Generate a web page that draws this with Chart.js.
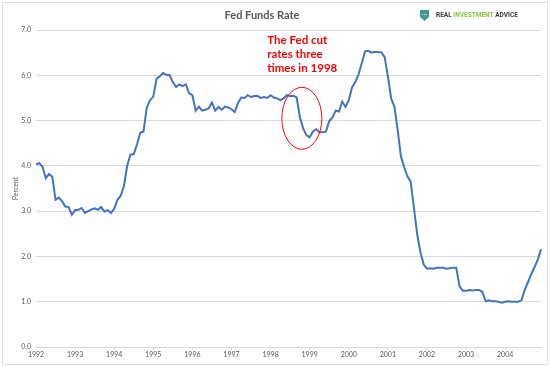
<!DOCTYPE html>
<html lang="en">
<head>
    <meta charset="UTF-8">
    <title>Fed Funds Rate</title>
    <script src="https://cdn.jsdelivr.net/npm/chart.js"></script>
    <style>
        html, body {
            margin: 0;
            padding: 0;
            background-color: white;
        }
        .wrap {
            position: relative;
            width: 550px;
            height: 367px;
        }
    </style>
</head>
<body>
    <div class="wrap">
        <canvas id="rateChart" width="550" height="367"></canvas>
    </div>

    <script>
        // Monthly fed funds rate (%)
        const years = ['1992', '1993', '1994', '1995', '1996', '1997', '1998', '1999', '2000', '2001', '2002', '2003', '2004'];
        const rates1992 = [4.03, 4.06, 3.98, 3.73, 3.82, 3.76, 3.25, 3.30, 3.22, 3.10, 3.09, 2.92];
        const rates1993 = [3.02, 3.03, 3.07, 2.96, 3.00, 3.04, 3.06, 3.03, 3.09, 2.99, 3.02, 2.96];
        const rates1994 = [3.05, 3.25, 3.34, 3.56, 4.01, 4.25, 4.26, 4.47, 4.73, 4.76, 5.29, 5.45];
        const rates1995 = [5.53, 5.92, 5.98, 6.05, 6.01, 6.00, 5.85, 5.74, 5.80, 5.76, 5.80, 5.60];
        const rates1996 = [5.56, 5.22, 5.31, 5.22, 5.24, 5.27, 5.40, 5.22, 5.30, 5.24, 5.31, 5.29];
        const rates1997 = [5.25, 5.19, 5.39, 5.51, 5.50, 5.56, 5.52, 5.54, 5.54, 5.50, 5.52, 5.50];
        const rates1998 = [5.56, 5.51, 5.49, 5.45, 5.49, 5.56, 5.54, 5.55, 5.51, 5.07, 4.83, 4.68];
        const rates1999 = [4.63, 4.76, 4.81, 4.74, 4.74, 4.76, 4.99, 5.07, 5.22, 5.20, 5.42, 5.30];
        const rates2000 = [5.45, 5.73, 5.85, 6.02, 6.27, 6.53, 6.54, 6.50, 6.52, 6.51, 6.51, 6.40];
        const rates2001 = [5.98, 5.49, 5.31, 4.80, 4.21, 3.97, 3.77, 3.65, 3.07, 2.49, 2.09, 1.82];
        const rates2002 = [1.73, 1.74, 1.73, 1.75, 1.75, 1.75, 1.73, 1.74, 1.75, 1.75, 1.34, 1.24];
        const rates2003 = [1.24, 1.26, 1.25, 1.26, 1.26, 1.22, 1.01, 1.03, 1.01, 1.01, 1.00, 0.98];
        const rates2004 = [1.00, 1.01, 1.00, 1.00, 1.00, 1.03, 1.26, 1.43, 1.61, 1.76, 1.93, 2.16];

        const yTicks = [0, 1, 2, 3, 4, 5, 6, 7];
        const noteLines = ['The Fed cut', 'rates three', 'times in 1998'];

        const allRates = [rates1992, rates1993, rates1994, rates1995, rates1996, rates1997, rates1998,
            rates1999, rates2000, rates2001, rates2002, rates2003, rates2004].flat();
        const labels = [];
        years.forEach(y => {
            for (let m = 1; m <= 12; m++) labels.push(y + '-' + String(m).padStart(2, '0'));
        });

        // frame, title, logo and the 1998 note
        const decorPlugin = {
            id: 'decor',
            beforeDraw(chart) {
                const ctx = chart.ctx;
                ctx.save();
                ctx.fillStyle = '#ffffff';
                ctx.fillRect(0, 0, chart.width, chart.height);
                ctx.strokeStyle = '#dedede';
                ctx.lineWidth = 1;
                ctx.strokeRect(2.5, 2.5, chart.width - 5, chart.height - 5);
                ctx.restore();
            },
            afterDraw(chart) {
                const ctx = chart.ctx;
                const xs = chart.scales.x;
                const ys = chart.scales.y;
                ctx.save();

                // title
                ctx.fillStyle = '#595959';
                ctx.font = 'bold 11px Lato, "Open Sans", sans-serif';
                ctx.textAlign = 'center';
                ctx.textBaseline = 'middle';
                ctx.fillText('Fed Funds Rate', 262, 15);

                // logo
                ctx.fillStyle = '#3f9c8c';
                ctx.beginPath();
                ctx.moveTo(420, 10);
                ctx.lineTo(429, 10);
                ctx.lineTo(429, 17);
                ctx.lineTo(424.5, 21);
                ctx.lineTo(420, 17);
                ctx.closePath();
                ctx.fill();
                ctx.fillStyle = '#ffffff';
                for (let i = 0; i < 3; i++) ctx.fillRect(422 + i * 2, 14, 1, 1);
                ctx.font = 'bold 6.5px Roboto, sans-serif';
                ctx.textAlign = 'left';
                let lx = 436;
                [['REAL ', '#3a3a3a'], ['INVESTMENT', '#8cc63f'], [' ADVICE', '#3a3a3a']].forEach(p => {
                    ctx.fillStyle = p[1];
                    ctx.fillText(p[0], lx, 15.5);
                    lx += ctx.measureText(p[0]).width;
                });

                // note text, anchored to the data scales
                ctx.fillStyle = '#ff0000';
                ctx.font = 'bold 11.5px Lato, "Open Sans", sans-serif';
                ctx.textAlign = 'left';
                const tx = xs.getPixelForValue(71);
                const ty = ys.getPixelForValue(6.78);
                noteLines.forEach((t, i) => ctx.fillText(t, tx, ty + i * 14));

                // ellipse around the cuts
                ctx.strokeStyle = '#ff0000';
                ctx.lineWidth = 1;
                ctx.beginPath();
                ctx.ellipse(xs.getPixelForValue(81.6), ys.getPixelForValue(5.05), 20, 31, 0, 0, Math.PI * 2);
                ctx.stroke();
                ctx.restore();
            }
        };

        new Chart(document.getElementById('rateChart'), {
            type: 'line',
            data: {
                labels: labels,
                datasets: [{
                    data: allRates,
                    borderColor: '#4472c4',
                    borderWidth: 2,
                    pointRadius: 0,
                    tension: 0,
                    fill: false
                }]
            },
            options: {
                responsive: false,
                animation: false,
                layout: {
                    padding: { top: 30, right: 9, bottom: 0, left: 0 }
                },
                plugins: {
                    legend: { display: false },
                    tooltip: { enabled: false },
                    title: { display: false }
                },
                scales: {
                    x: {
                        type: 'category',
                        offset: false,
                        afterFit(scale) { scale.height = 20; },
                        border: { color: '#d9d9d9' },
                        grid: {
                            drawOnChartArea: false,
                            drawTicks: true,
                            tickLength: 3,
                            color: '#d9d9d9'
                        },
                        ticks: {
                            autoSkip: false,
                            maxRotation: 0,
                            padding: 1,
                            color: '#595959',
                            font: { size: 7, family: 'Lato, sans-serif' },
                            callback(value, index) {
                                return index % 12 === 0 ? years[index / 12] : null;
                            }
                        }
                    },
                    y: {
                        min: yTicks[0],
                        max: yTicks[yTicks.length - 1],
                        afterFit(scale) { scale.width = 36; },
                        afterBuildTicks(scale) { scale.ticks = yTicks.map(v => ({ value: v })); },
                        border: { display: false },
                        grid: {
                            color: '#d9d9d9',
                            drawTicks: false
                        },
                        title: {
                            display: true,
                            text: 'Percent',
                            color: '#595959',
                            font: { size: 7, family: 'Lato, sans-serif' },
                            padding: { top: 12, bottom: 0 }
                        },
                        ticks: {
                            padding: 5,
                            color: '#595959',
                            font: { size: 7, family: 'Lato, sans-serif' },
                            callback(value) { return Number(value).toFixed(1); }
                        }
                    }
                }
            },
            plugins: [decorPlugin]
        });
    </script>
</body>
</html>
